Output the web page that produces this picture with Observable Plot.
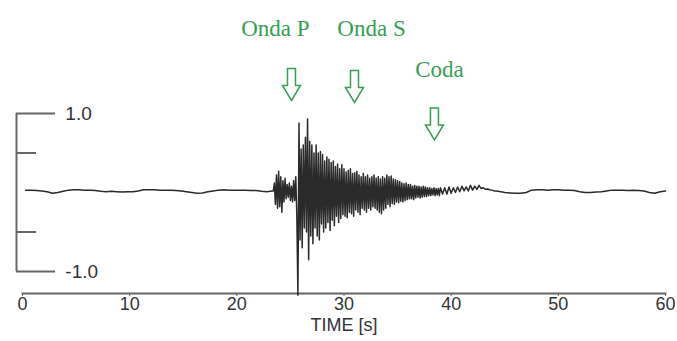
<!DOCTYPE html>
<html>
<head>
<meta charset="utf-8">
<script src="https://cdn.jsdelivr.net/npm/d3@7"></script>
<script src="https://cdn.jsdelivr.net/npm/@observablehq/plot@0.6"></script>
<style>
  html, body { margin: 0; padding: 0; background: #ffffff; }
  #chart { width: 677px; height: 341px; }
</style>
</head>
<body>
<div id="chart"></div>
<script>
// ---- Data (amplitude, normalised) ----
// quiet noise before the arrival: first sample at 0.3 s, every 0.5 s
const quietStart = [
  0.03, 0.03, 0.025, 0.02, 0.01, -0.01, 0.0, 0.015, 0.03, 0.035,
  0.035, 0.03, 0.03, 0.025, 0.015, 0.01, 0.015, 0.01, 0.005, 0.01,
  0.01, 0.02, 0.035, 0.035, 0.035, 0.03, 0.03, 0.03, 0.025, 0.02,
  0.01, 0.0, -0.01, -0.005, 0.01, 0.02, 0.03, 0.035, 0.03, 0.03,
  0.03, 0.03, 0.025, 0.025, 0.015, 0.01, 0.02
];
// P arrival, S arrival and coda: first sample at 23.4 s, every 0.1 s
const activeAmp = [
  0.02, 0.12, -0.15, 0.22, -0.2, 0.27,
  -0.18, 0.2, -0.25, 0.15, -0.12, 0.18, -0.08, 0.1, -0.06, 0.12,
  -0.1, 0.08, -0.12, 0.15, -0.1, 0.2, -0.3, -1.3, 0.88, -0.6,
  0.55, -0.7, 0.6, -0.45, 0.7, -0.5, 0.93, -0.85, 0.65, -0.55,
  0.6, -0.65, 0.5, -0.45, 0.6, -0.55, 0.5, -0.6, 0.52, -0.4,
  0.48, -0.5, 0.4, -0.45, 0.45, -0.38, 0.42, -0.48, 0.38, -0.35,
  0.4, -0.42, 0.33, -0.3, 0.36, -0.38, 0.3, -0.33, 0.35, -0.28,
  0.3, -0.3, 0.26, -0.32, 0.28, -0.25, 0.3, -0.27, 0.24, -0.3,
  0.25, -0.22, 0.27, -0.25, 0.22, -0.28, 0.2, -0.2, 0.24, -0.22,
  0.2, -0.25, 0.22, -0.2, 0.18, -0.22, 0.2, -0.18, 0.22, -0.2,
  0.18, -0.22, 0.2, -0.25, 0.17, -0.27, 0.2, -0.22, 0.18, -0.2,
  0.22, -0.15, 0.2, -0.18, 0.21, -0.14, 0.17, -0.15, 0.16, -0.12,
  0.15, -0.13, 0.14, -0.11, 0.12, -0.12, 0.11, -0.1, 0.12, -0.09,
  0.1, -0.08, 0.1, -0.08, 0.08, -0.09, 0.09, -0.07, 0.08, -0.06,
  0.08, -0.07, 0.07, -0.06, 0.08, -0.05, 0.07, -0.05, 0.06, -0.04,
  0.06, -0.04, 0.05, -0.03, 0.06, -0.04, 0.05, -0.03, 0.05, -0.04,
  0.06
];
// end of the coda: first sample at 39.2 s, every 0.2 s
const codaTail = [
  -0.02, 0.06, -0.02, 0.07, -0.01, 0.06, 0.0, 0.07, 0.01, 0.08,
  0.02, 0.07, 0.02, 0.09, 0.03, 0.08, 0.04, 0.09, 0.05, 0.06,
  0.04, 0.045, 0.035, 0.03, 0.02, 0.02, 0.015, 0.01, 0.005
];
// quiet noise after: first sample at 45 s, every 0.5 s
const quietEnd = [
  0.0, -0.005, -0.01, -0.01, 0.0, 0.03, 0.035, 0.035, 0.03, 0.035,
  0.035, 0.03, 0.03, 0.025, 0.01, 0.0, 0.0, 0.005, 0.01, 0.02,
  0.03, 0.03, 0.03, 0.025, 0.03, 0.025, 0.02, 0.0, -0.01, 0.01, 0.02
];
// segment sampling: [start time, interval]
const segStart = [0.3, 23.4, 39.2, 45.0];
const segStep  = [0.5, 0.1, 0.2, 0.5];

const xTicks = [0, 10, 20, 30, 40, 50, 60];
const xLabel = "TIME [s]";
const yTickValues = [1.0, 0.5, -0.5, -1.0];
const yTickLabels = ["1.0", "", "", "-1.0"];

const phaseNames = ["Onda P", "Onda S", "Coda"];
const phaseLabelX = [23.6, 32.57, 38.91];
const phaseLabelY = [2.08, 2.08, 1.55];
const phaseArrowX = [25.1, 30.98, 38.44];
const phaseArrowY = [1.367, 1.342, 0.867];

// ---- build table ----
const segs = [quietStart, activeAmp, codaTail, quietEnd];
const trace = segs.flatMap((vals, s) =>
  vals.map((v, i) => ({ t: +(segStart[s] + i * segStep[s]).toFixed(2), v })));

const yTicks = yTickValues.map((v, i) => ({ v, label: yTickLabels[i], major: Math.abs(v) === 1 }));
const phases = phaseNames.map((name, i) => ({
  name, lx: phaseLabelX[i], ly: phaseLabelY[i], ax: phaseArrowX[i], ay: phaseArrowY[i]
}));

const green = "#35a055";
const axisGray = "#666";
const textGray = "#333";

const downArrow = {
  draw(ctx, size) {
    const r = Math.sqrt(size / Math.PI);
    const k = r / 16;
    ctx.moveTo(-4 * k, -16 * k);
    ctx.lineTo(4 * k, -16 * k);
    ctx.lineTo(4 * k, 1 * k);
    ctx.lineTo(9 * k, 1 * k);
    ctx.lineTo(0, 16 * k);
    ctx.lineTo(-9 * k, 1 * k);
    ctx.lineTo(-4 * k, 1 * k);
    ctx.closePath();
  }
};

const yAxisX = -0.56;   // axis frame sits just left of t = 0
const chart = Plot.plot({
  width: 677,
  height: 341,
  marginLeft: 22,
  marginRight: 12,
  marginTop: 0,
  marginBottom: 48,
  style: { fontFamily: "'Liberation Sans', Arial, sans-serif", background: "#ffffff", color: textGray },
  x: { domain: [0, 60], axis: null },
  y: { domain: [-1, 1], range: [271, 113], axis: null },
  marks: [
    // y axis frame
    Plot.ruleX([yAxisX], { y1: -1, y2: 1, stroke: axisGray, strokeWidth: 2 }),
    Plot.ruleY(yTicks, { y: "v", x1: yAxisX, x2: d => d.major ? 3.08 : 1.31, stroke: axisGray, strokeWidth: 2 }),
    Plot.text(yTicks, { y: "v", x: 4.0, text: "label", textAnchor: "start", fontSize: 19, fill: textGray }),
    // x axis
    Plot.frame({ anchor: "bottom", stroke: axisGray, strokeWidth: 2 }),
    Plot.axisX({ ticks: xTicks, tickSize: 3, tickPadding: 1, fontSize: 18, label: null, stroke: axisGray, color: textGray }),
    Plot.text([xLabel], { x: 30, frameAnchor: "bottom", dy: 37, fontSize: 18, fill: textGray }),
    // seismogram trace
    Plot.line(trace, { x: "t", y: "v", stroke: "#2a2a2a", strokeWidth: 1.5 }),
    // phase annotations
    Plot.text(phases, { x: "lx", y: "ly", text: "name", fill: green, fontSize: 23, fontFamily: "'Liberation Serif', 'Times New Roman', serif" }),
    Plot.dot(phases, { x: "ax", y: "ay", symbol: downArrow, r: 16, fill: "white", stroke: green, strokeWidth: 1.5 })
  ]
});
document.getElementById("chart").appendChild(chart);
</script>
</body>
</html>
